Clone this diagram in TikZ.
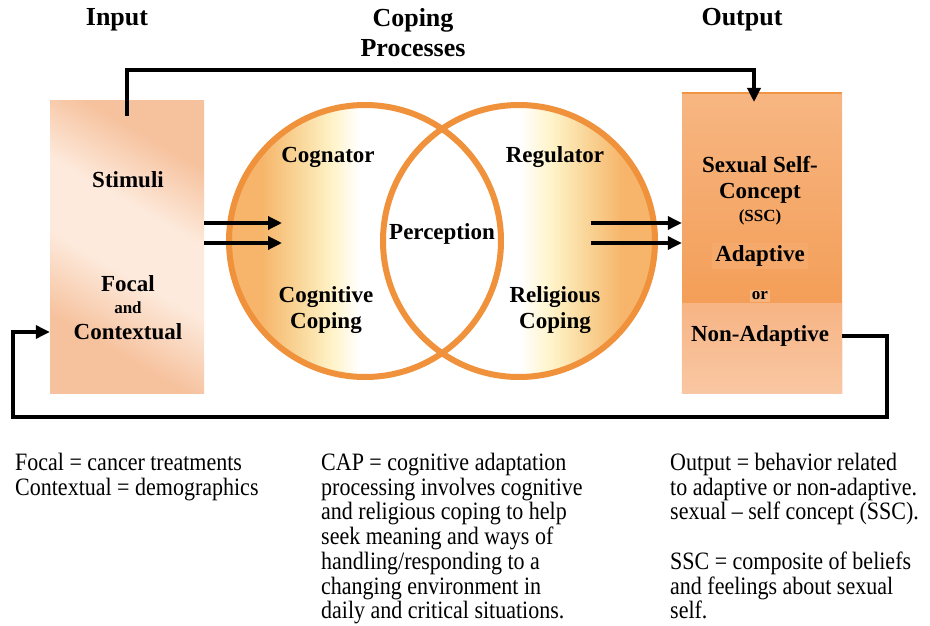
\documentclass[tikz,border=0pt]{standalone}
\usepackage{fontspec}
\setmainfont{Liberation Serif}
\newfontfamily\notefont{Liberation Serif}[FakeStretch=0.88, Ligatures=TeX]
\usetikzlibrary{arrows.meta}

\definecolor{ringorange}{HTML}{F0913C}
\definecolor{ringfill}{HTML}{F6B56A}
\definecolor{ringmid}{HTML}{F9D79A}
\definecolor{cream}{HTML}{FFF3C8}
\definecolor{peach}{HTML}{F6C29E}
\definecolor{peachlight}{HTML}{FDEADC}
\definecolor{outdark}{HTML}{F29446}
\definecolor{outlight}{HTML}{F7B682}
\definecolor{outsoft}{HTML}{F7B484}
\definecolor{outpale}{HTML}{F9C7A3}

% fills of the two overlapping circles
\pgfdeclarehorizontalshading{cogfade}{100bp}{color(0bp)=(ringfill); color(31bp)=(ringfill);
  color(38bp)=(ringmid); color(44bp)=(cream); color(49bp)=(white); color(100bp)=(white)}
\pgfdeclarehorizontalshading{regfade}{100bp}{color(0bp)=(white); color(50bp)=(white);
  color(56bp)=(cream); color(62bp)=(ringmid); color(69bp)=(ringfill); color(100bp)=(ringfill)}
\pgfdeclarehorizontalshading{inputfade}{100bp}{color(0bp)=(peach); color(30bp)=(peach);
  color(45bp)=(peachlight); color(58bp)=(peachlight); color(72bp)=(peach); color(100bp)=(peach)}

\tikzset{
  head/.style={font=\bfseries\fontsize{26}{30}\selectfont, align=center},
  lbl/.style={font=\bfseries\fontsize{23}{26}\selectfont, align=center},
  smalllbl/.style={font=\bfseries\fontsize{17}{19}\selectfont},
  note/.style={font=\notefont\fontsize{25}{24.7}\selectfont, align=left, anchor=north west, inner sep=0pt},
  ring/.style={draw=ringorange, line width=6pt},
  flow/.style={line width=3.3pt, ->},
  feed/.style={line width=3.3pt, ->, line join=miter},
}

\begin{document}
\begin{tikzpicture}[x=1pt, y=-1pt, >={Triangle[length=14pt,width=13pt]}]
\useasboundingbox (0,0) rectangle (930,626);

% column heads
\node[head] (hin) at (117,20) {Input};
\node[head] (hcop) at (413,33) {Coping\\Processes};
\node[head] (hout) at (742,20) {Output};

% input box
\node[shade, shading=inputfade, shading angle=60, minimum width=154pt, minimum height=292pt,
  inner sep=0pt] (input) at (127,247) {};
\node[lbl] (stim) at (128,180) {Stimuli};
\node[lbl] (focal) at (128,284) {Focal};
\node[smalllbl] (and) at (128,308) {and};
\node[lbl] (ctx) at (128,332) {Contextual};

% coping circles
\node[circle, shade, shading=cogfade, minimum size=272pt, inner sep=0pt] (cog) at (365,241) {};
\node[circle, shade, shading=regfade, minimum size=272pt, inner sep=0pt] (reg) at (519,241) {};
\draw[ring] (cog.center) circle[radius=136pt];
\draw[ring] (reg.center) circle[radius=136pt];
\node[lbl] (cogn) at (328,157) {Cognator};
\node[lbl] (cogcop) at (326,310) {Cognitive\\Coping};
\node[lbl] (perc) at (442,234) {Perception};
\node[lbl] (regl) at (555,157) {Regulator};
\node[lbl] (relcop) at (555,310) {Religious\\Coping};

% output box
\node[top color=outlight, bottom color=outdark, minimum width=160pt, minimum height=300pt,
  inner sep=0pt] (output) at (762,243) {};
\shade[top color=outsoft, bottom color=outpale] (output.south west) rectangle ([yshift=90pt]output.south east);
\draw[outdark, line width=2pt] (output.north west) -- (output.north east);
\node[lbl] (ssc) at (760,180) {Sexual Self-\\Concept};
\node[smalllbl] (sscab) at (760,217) {(SSC)};
\node[lbl, fill=outdark!80!white, inner sep=3pt] (adapt) at (760,256) {Adaptive};
\node[smalllbl, fill=outdark!70!white, inner sep=2pt] (or) at (760,296) {or};
\node[lbl] (nonad) at (760,336) {Non-Adaptive};

% flows into and out of the circles
\coordinate (cin1) at (282,223);
\coordinate (cin2) at (282,243);
\coordinate (rout1) at (591,223);
\coordinate (rout2) at (591,243);
\draw[flow] (input.east |- cin1) -- (cin1);
\draw[flow] (input.east |- cin2) -- (cin2);
\draw[flow] (rout1) -- (output.west |- rout1);
\draw[flow] (rout2) -- (output.west |- rout2);

% feedback loops
\coordinate (loopT) at (754,70);
\coordinate (loopB) at (887,417);
\coordinate (loopL) at (13,417);
\draw[feed] ([yshift=-15pt]input.north) |- (loopT) -- ++(0,32);
\draw[feed] (output.east |- nonad) -| (loopB) -- (loopL) |- (input.west |- ctx);

% notes
\node[note] (fnote) at (15,453) {Focal = cancer treatments\\Contextual = demographics};
\node[note] (capnote) at (321,453) {CAP = cognitive adaptation\\processing involves cognitive\\
  and religious coping to help\\seek meaning and ways of\\handling/responding to a\\
  changing environment in\\daily and critical situations.};
\node[note] (outnote) at (670,453) {Output = behavior related\\to adaptive or non-adaptive.\\
  sexual -- self concept (SSC).\\[24.7pt]SSC = composite of beliefs\\and feelings about sexual\\self.};
\end{tikzpicture}
\end{document}
